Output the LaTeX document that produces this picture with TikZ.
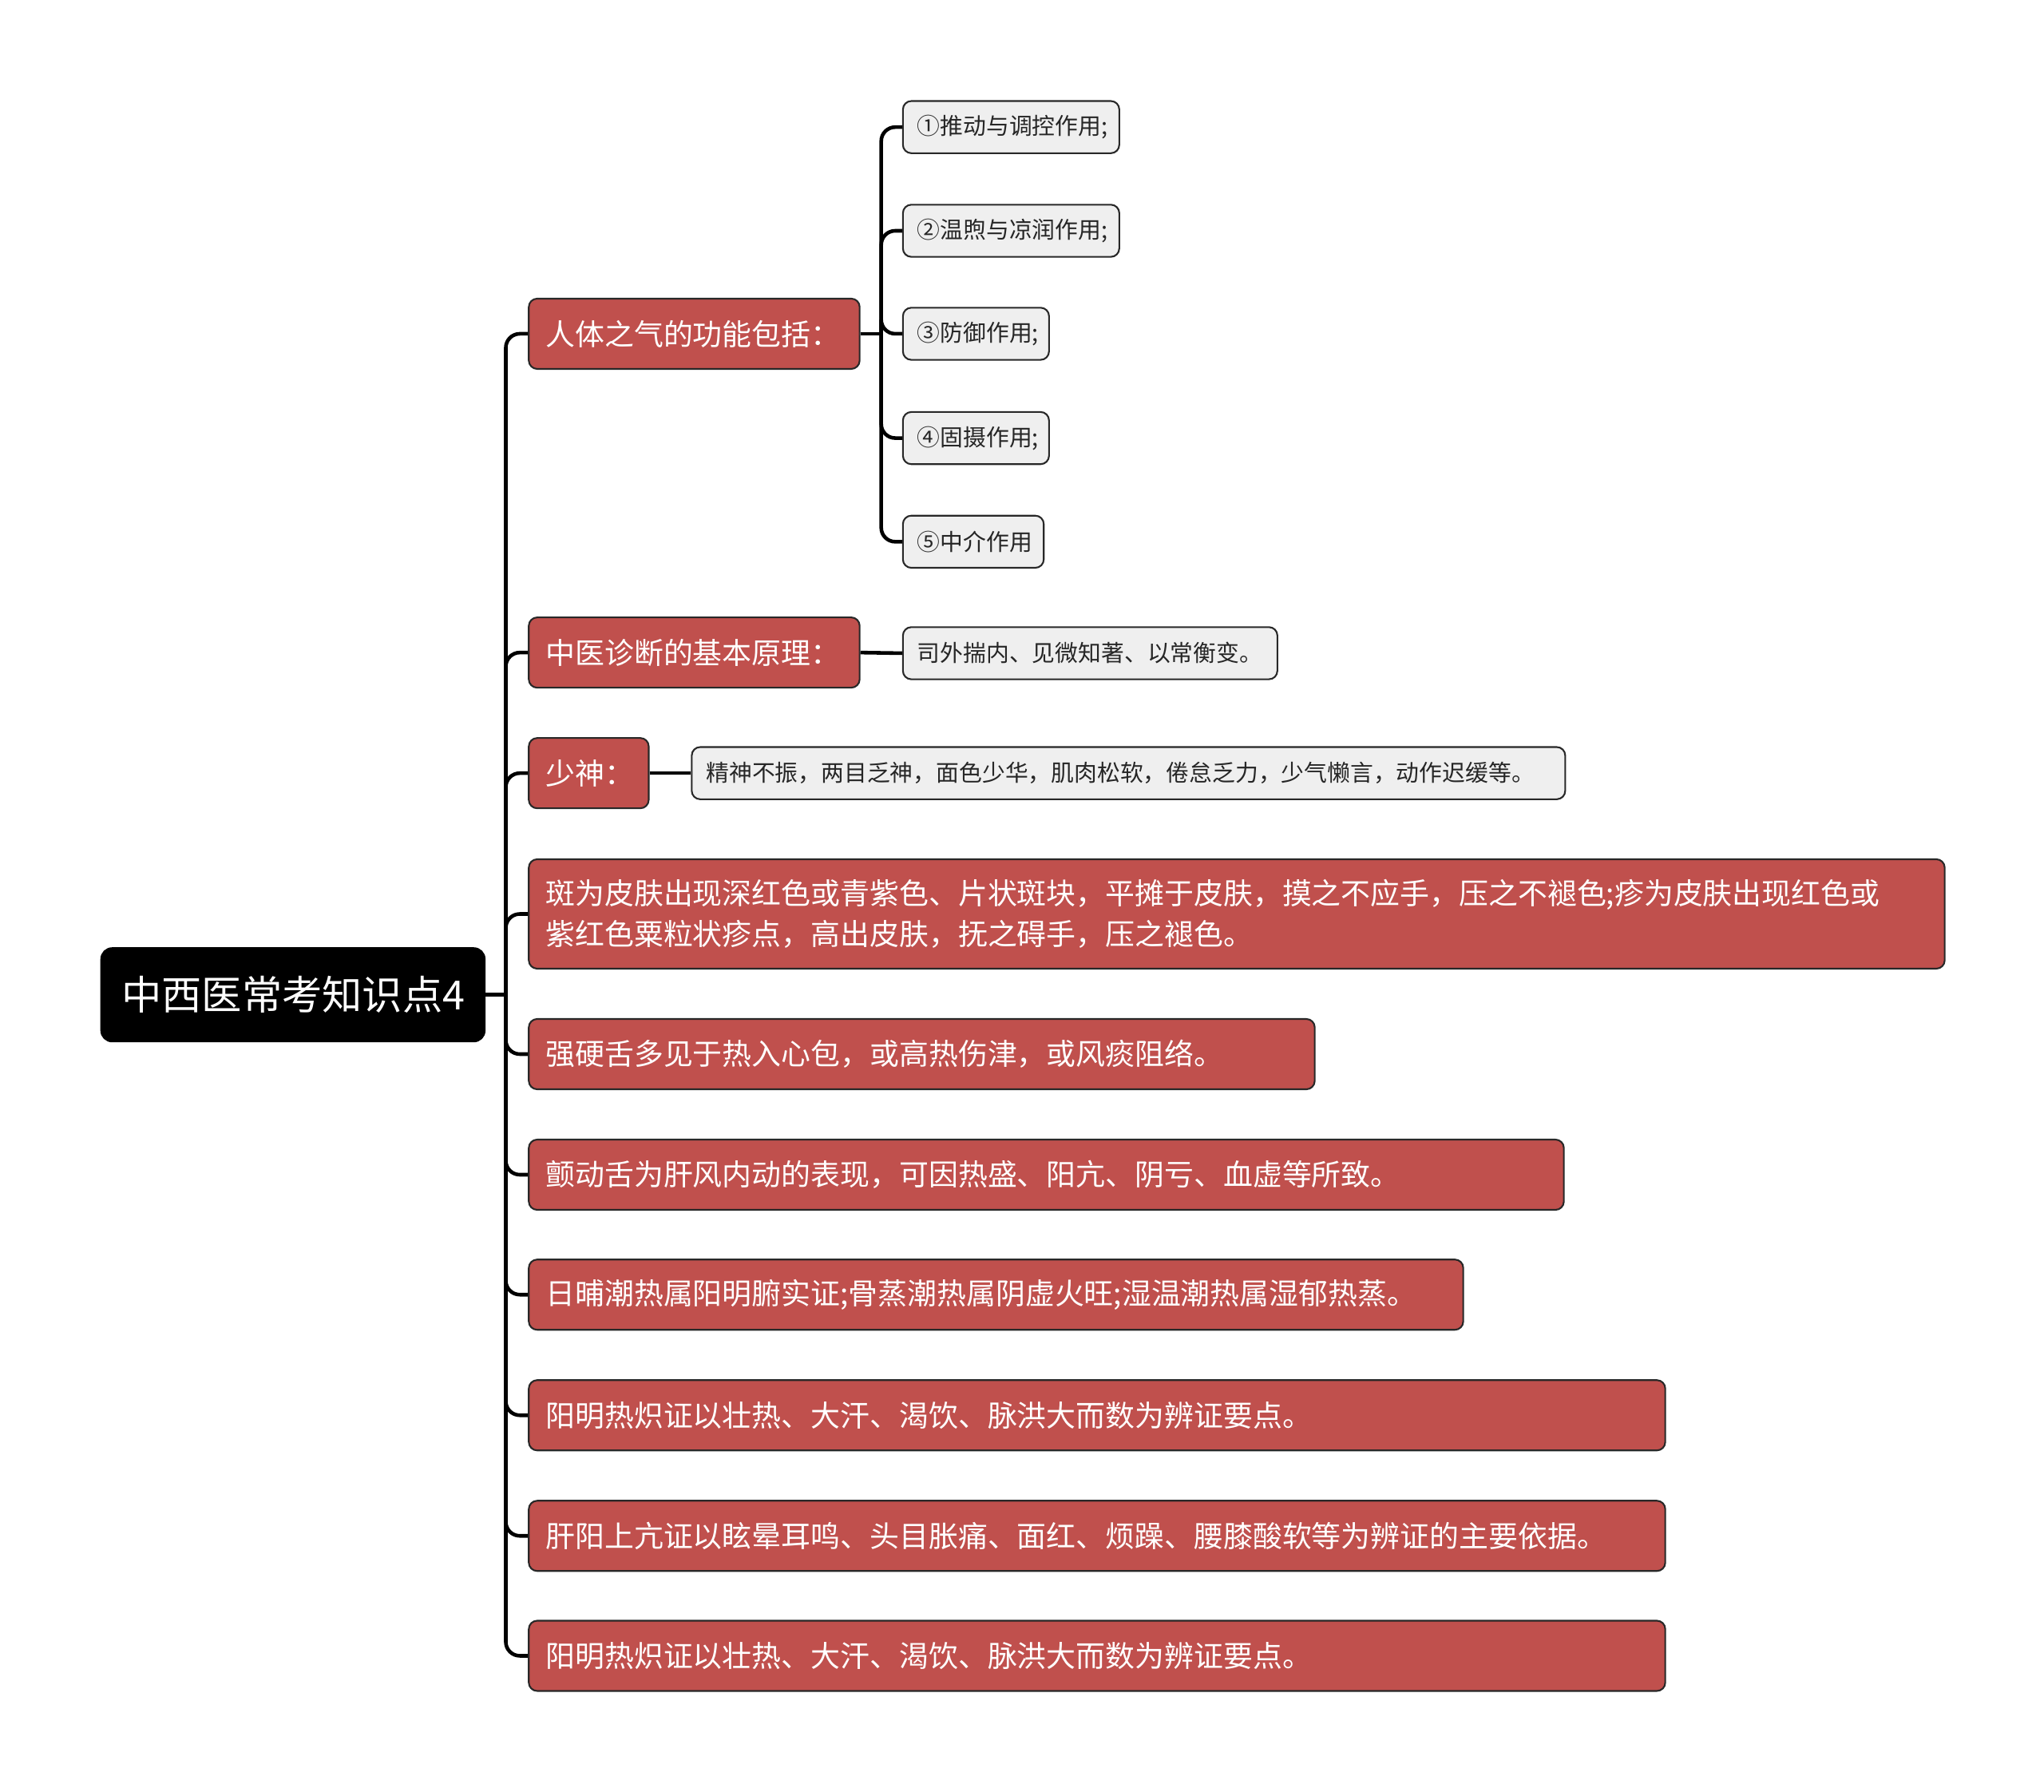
\documentclass[tikz,border=0pt]{standalone}
\usepackage{fontspec}
\newfontfamily\cjk{Noto Sans CJK SC}
\usetikzlibrary{positioning}
\definecolor{mapred}{RGB}{192,80,77}
\definecolor{mapgray}{RGB}{239,239,239}
\definecolor{mapedge}{RGB}{40,40,40}

\begin{document}
\begin{tikzpicture}[
      x=0.016327cm, y=-0.016327cm,
      rootbox/.style={fill=black, draw=black, rounded corners=4pt, text=white,
                  font=\cjk\fontsize{14.3pt}{17pt}\selectfont, inner xsep=0.26cm,
                  minimum height=1.176cm, anchor=west, align=left},
      topic/.style={fill=mapred, draw=mapedge, line width=0.6pt, rounded corners=3pt, text=white,
                  font=\cjk\fontsize{10.5pt}{14.4pt}\selectfont, inner xsep=0.212cm,
                  minimum height=0.88cm, anchor=west, align=left},
      leaf/.style={fill=mapgray, draw=mapedge, line width=0.6pt, rounded corners=3pt, text=black!85,
                  font=\cjk\fontsize{8.2pt}{10pt}\selectfont, inner xsep=0.18cm,
                  minimum height=0.653cm, anchor=west, align=left},
      link/.style={line width=1.3pt, rounded corners=5pt}
    ]
      \useasboundingbox (0,0) rectangle (1568,1374);

      % Racine
      \node[rootbox, text width=4.29cm] (root) at (77,763) {中西医常考知识点4};

      % Branches principales
      \node[topic, text width=3.72cm] (qi) at (405,256) {人体之气的功能包括：};
      \node[topic, text width=3.72cm] (diag) at (405,500.5) {中医诊断的基本原理：};
      \node[topic, text width=1.078cm] (shen) at (405,593) {少神：};
      \node[topic, text width=17.31cm, minimum height=1.37cm] (ban) at (405,701) {斑为皮肤出现深红色或青紫色、片状斑块，平摊于皮肤，摸之不应手，压之不褪色;疹为皮肤出现红色或\\紫红色粟粒状疹点，高出皮肤，抚之碍手，压之褪色。};
      \node[topic, text width=9.42cm] (qiang) at (405,808.5) {强硬舌多见于热入心包，或高热伤津，或风痰阻络。};
      \node[topic, text width=12.54cm] (chan) at (405,901) {颤动舌为肝风内动的表现，可因热盛、阳亢、阴亏、血虚等所致。};
      \node[topic, text width=11.28cm] (chao) at (405,993) {日晡潮热属阳明腑实证;骨蒸潮热属阴虚火旺;湿温潮热属湿郁热蒸。};
      \node[topic, text width=13.81cm] (yma) at (405,1085.5) {阳明热炽证以壮热、大汗、渴饮、脉洪大而数为辨证要点。};
      \node[topic, text width=13.81cm] (gan) at (405,1178) {肝阳上亢证以眩晕耳鸣、头目胀痛、面红、烦躁、腰膝酸软等为辨证的主要依据。};
      \node[topic, text width=13.81cm] (ymb) at (405,1270) {阳明热炽证以壮热、大汗、渴饮、脉洪大而数为辨证要点。};

      % Feuilles
      \node[leaf, text width=2.35cm] (f1) at (692,97.5) {①推动与调控作用;};
      \node[leaf, text width=2.35cm] (f2) at (692,177) {②温煦与凉润作用;};
      \node[leaf, text width=1.47cm] (f3) at (692,256) {③防御作用;};
      \node[leaf, text width=1.47cm] (f4) at (692,336) {④固摄作用;};
      \node[leaf, text width=1.404cm] (f5) at (692,415.5) {⑤中介作用};
      \node[leaf, text width=4.33cm] (yuan) at (692,501) {司外揣内、见微知著、以常衡变。};
      \node[leaf, text width=10.58cm] (biao) at (530,593) {精神不振，两目乏神，面色少华，肌肉松软，倦怠乏力，少气懒言，动作迟缓等。};

      % Liens
      \coordinate (j) at (388,763);
      \coordinate (jq) at (676,256);
      \draw[link] (root.east) -- (j);
      \foreach \t in {qi,diag,shen,ban,qiang,chan,chao,yma,gan,ymb}
        \draw[link] (j) |- (\t.west);
      \draw[link] (qi.east) -- (jq);
      \foreach \f in {f1,f2,f3,f4,f5}
        \draw[link] (jq) |- (\f.west);
      \draw[link] (diag.east) -- (yuan.west);
      \draw[link] (shen.east) -- (biao.west);
    \end{tikzpicture}
\end{document}
